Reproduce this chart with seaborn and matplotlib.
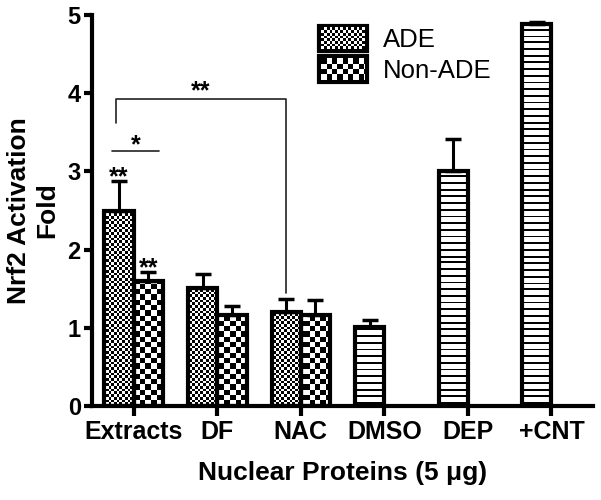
import numpy as np
import pandas as pd
import matplotlib
matplotlib.use("Agg")
import matplotlib.pyplot as plt
from matplotlib.patches import Patch
import seaborn as sns

# data
groups = ["Extracts", "DF", "NAC", "DMSO", "DEP", "+CNT"]
ade = [2.50, 1.51, 1.20, 1.01, 3.00, 4.88]
ade_err = [0.38, 0.18, 0.17, 0.09, 0.42, 0.03]
nonade_groups = ["Extracts", "DF", "NAC"]
nonade = [1.60, 1.17, 1.16]
nonade_err = [0.11, 0.11, 0.20]
control_groups = ["DMSO", "DEP", "+CNT"]

df = pd.DataFrame({
    "group": groups + nonade_groups,
    "sample": ["ADE"] * len(groups) + ["Non-ADE"] * len(nonade_groups),
    "fold": ade + nonade,
})

sns.set_style("ticks")
plt.rcParams["font.family"] = ["Liberation Sans", "DejaVu Sans"]
for k in ["text.color", "axes.labelcolor", "xtick.color", "ytick.color", "axes.edgecolor"]:
    plt.rcParams[k] = "black"

fig, ax = plt.subplots(figsize=(6.01, 5.0), dpi=100)
fig.subplots_adjust(left=0.153, right=0.987, bottom=0.188, top=0.970)

sns.barplot(data=df, x="group", y="fold", hue="sample", order=groups,
            hue_order=["ADE", "Non-ADE"], errorbar=None, width=0.7,
            palette={"ADE": "white", "Non-ADE": "white"},
            edgecolor="black", linewidth=3, legend=False, ax=ax, zorder=3)

ax.set_xlim(-0.5, 5.5)
ax.set_ylim(0, 5)
ax.set_yticks(range(6))
sns.despine(ax=ax)
for s in ["left", "bottom"]:
    ax.spines[s].set_linewidth(3)
    ax.spines[s].set_color("black")
ax.tick_params(axis="x", length=7, width=3, pad=3, labelsize=18, colors="black")
ax.tick_params(axis="y", length=6, width=3, pad=2, labelsize=17, colors="black")
for lab in ax.get_xticklabels() + ax.get_yticklabels():
    lab.set_fontweight("bold")
ax.set_xlabel("Nuclear Proteins (5 \u03bcg)", fontsize=19, fontweight="bold", labelpad=12)
ax.set_ylabel("Nrf2 Activation\nFold", fontsize=19, fontweight="bold", labelpad=6)

ade_bars, non_bars = ax.containers[0], ax.containers[1]


def cx(b):
    return b.get_x() + b.get_width() / 2


# one-sided error bars
for bars, means, errs in [(ade_bars, ade, ade_err), (non_bars, nonade, nonade_err)]:
    for b, m, e in zip(bars, means, errs):
        ax.errorbar(cx(b), m, yerr=[[0], [e]], fmt="none", ecolor="black",
                    elinewidth=2.2, capsize=6, capthick=2.5, zorder=4)

# significance marks
star_kw = dict(ha="center", va="baseline", fontsize=18, fontweight="bold", color="black")
e0, n0, nac = ade_bars[0], non_bars[0], ade_bars[2]
ax.text(cx(e0), ade[0] + ade_err[0] - 0.05, "**", **star_kw)
ax.text(cx(n0), nonade[0] + nonade_err[0] - 0.04, "**", **star_kw)
x1, x2 = cx(e0) - 0.08, cx(n0) + 0.13
ax.plot([x1, x2], [3.26, 3.26], color="#222222", lw=1.2)
ax.text((x1 + x2) / 2, 3.25, "*", **star_kw)
bx1, bx2 = cx(e0) - 0.04, cx(nac)
ax.plot([bx1, bx1, bx2, bx2], [3.62, 3.92, 3.92, 1.45], color="#222222", lw=1.2)
ax.text((bx1 + bx2) / 2, 3.94, "**", **star_kw)

# legend
handles = [Patch(facecolor="white", edgecolor="black", linewidth=3, label="ADE"),
           Patch(facecolor="white", edgecolor="black", linewidth=3, label="Non-ADE")]
leg = ax.legend(handles=handles, loc="upper left", bbox_to_anchor=(0.453, 0.972),
                frameon=False, fontsize=18.5, handlelength=1.85, handleheight=1.15,
                labelspacing=0.15, handletextpad=0.65, borderpad=0, borderaxespad=0,
                labelcolor="black")

# fill textures (checkers and stripes), built at pixel size
fig.canvas.draw()
bb = ax.get_window_extent()
H, W = int(round(bb.height)) + 2, int(round(bb.width)) + 2
ii, jj = np.mgrid[0:H, 0:W]
pats = {
    "fine": (((ii / 2.7).astype(int) + (jj / 2.7).astype(int)) % 2).astype(float),
    "coarse": (((ii / 5.3).astype(int) + (jj / 5.3).astype(int)) % 2).astype(float),
    "stripes": ((ii % 6.7) >= 1.8).astype(float),
}

kinds = [("stripes" if g in control_groups else "fine") for g in groups]
fills = list(zip(ade_bars, kinds)) + [(b, "coarse") for b in non_bars]
xl, yl = ax.get_xlim(), ax.get_ylim()
for b, kind in fills:
    b.set_facecolor("none")
    im = ax.imshow(pats[kind], cmap="gray", vmin=0, vmax=1, extent=(*xl, *yl),
                   aspect="auto", interpolation="nearest", zorder=2)
    im.set_clip_path(b)
ax.set_xlim(xl)
ax.set_ylim(yl)

for p, kind in zip(leg.get_patches(), ["fine", "coarse"]):
    pb = p.get_window_extent()
    x0, y0 = int(round(pb.x0 + 2)), int(round(pb.y0 + 2))
    w, h = int(round(pb.width - 4)), int(round(pb.height - 4))
    fig.figimage(pats[kind][:h, :w], xo=x0, yo=y0, cmap="gray", vmin=0, vmax=1,
                 zorder=10)

fig.savefig("out.png", dpi=100)
